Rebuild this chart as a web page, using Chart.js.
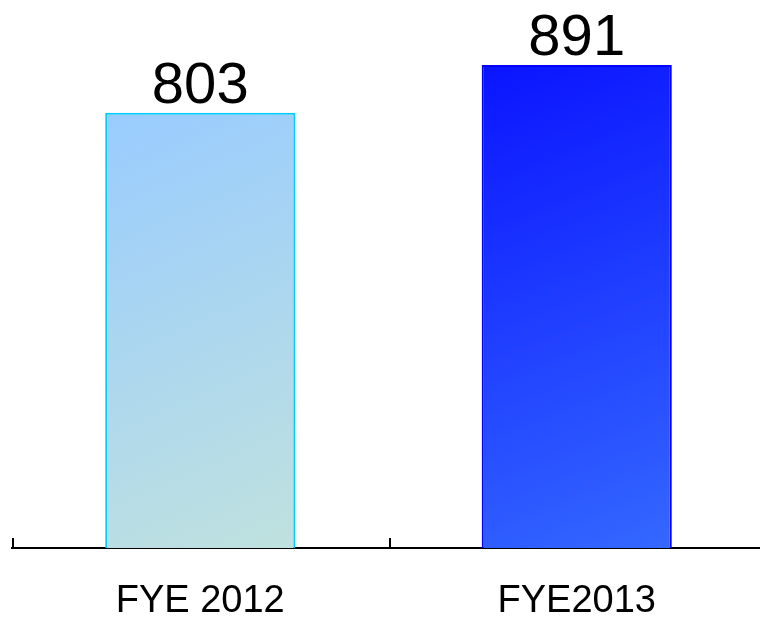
<!DOCTYPE html>
<html>
<head>
<meta charset="utf-8">
<script src="https://cdn.jsdelivr.net/npm/chart.js@4/dist/chart.umd.min.js"></script>
<style>
  html, body { margin: 0; padding: 0; background: #fff; }
  #wrap { width: 760px; height: 622px; overflow: hidden; position: relative; }
  canvas { display: block; }
</style>
</head>
<body>
<div id="wrap"><canvas id="c" width="765" height="622"></canvas></div>
<script>
const categories = ['FYE 2012', 'FYE2013'];
const values = [803, 891];
const gradientStops = [['#99CCFF', '#BFE1DE'], ['#0A14FF', '#3468FF']];
const borderColors = ['#00CCFF', '#0000FF'];
const yMax = 1000;
const barPct = 0.505;

function barFill(ctx) {
  const chart = ctx.chart;
  const xs = chart.scales.x, ys = chart.scales.y;
  const i = ctx.dataIndex;
  if (!xs || !ys || !chart.chartArea || i === undefined) return gradientStops[i || 0][0];
  const cx = xs.getPixelForValue(i);
  const w = xs.width / categories.length * barPct;
  const top = ys.getPixelForValue(values[i]);
  const bottom = ys.getPixelForValue(0);
  const g = chart.ctx.createLinearGradient(cx - w / 2, top, cx + w / 2, bottom);
  g.addColorStop(0, gradientStops[i][0]);
  g.addColorStop(1, gradientStops[i][1]);
  return g;
}

const tickMarks = {
  id: 'tickMarks',
  afterDraw(chart) {
    const s = chart.scales.x;
    const n = categories.length;
    const c = chart.ctx;
    c.save();
    c.strokeStyle = '#000';
    c.lineWidth = 2;
    for (let i = 0; i <= n; i++) {
      const x = Math.round(s.left + i * s.width / n) + 1;
      c.beginPath();
      c.moveTo(x, s.top);
      c.lineTo(x, s.top - 10);
      c.stroke();
    }
    c.restore();
  }
};

const valueLabels = {
  id: 'valueLabels',
  afterDatasetsDraw(chart) {
    const c = chart.ctx;
    const meta = chart.getDatasetMeta(0);
    c.save();
    c.font = '58px "Liberation Sans", Arial, sans-serif';
    c.fillStyle = '#000';
    c.textAlign = 'center';
    c.textBaseline = 'alphabetic';
    meta.data.forEach((bar, i) => {
      c.fillText(String(values[i]), bar.x, bar.y - 10);
    });
    c.restore();
  }
};

new Chart(document.getElementById('c'), {
  type: 'bar',
  data: {
    labels: categories,
    datasets: [{
      data: values,
      backgroundColor: barFill,
      borderColor: borderColors,
      borderWidth: 2,
      categoryPercentage: 1,
      barPercentage: barPct
    }]
  },
  options: {
    responsive: false,
    devicePixelRatio: 1,
    animation: false,
    layout: { padding: { left: 12, top: 6, right: 0, bottom: 0 } },
    plugins: { legend: { display: false }, tooltip: { enabled: false } },
    scales: {
      x: {
        type: 'category',
        offset: true,
        grid: { display: false, drawTicks: false },
        border: { display: true, color: '#000', width: 2 },
        ticks: {
          color: '#000',
          padding: 35,
          font: { family: '"Liberation Sans", Arial, sans-serif', size: 38, lineHeight: 1 }
        },
        afterFit(scale) { scale.height = 74; }
      },
      y: {
        display: false,
        min: 0,
        max: yMax
      }
    }
  },
  plugins: [tickMarks, valueLabels]
});
</script>
</body>
</html>
